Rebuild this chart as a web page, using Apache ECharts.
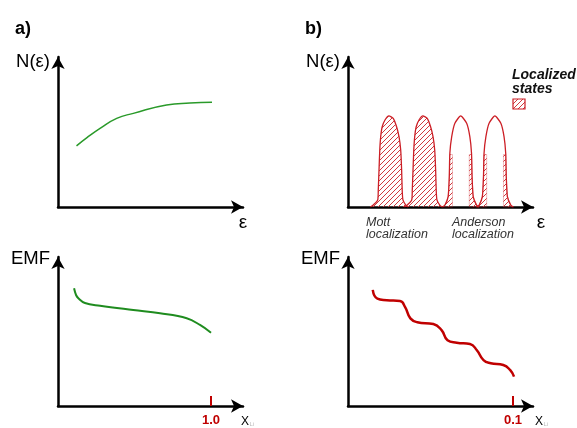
<!DOCTYPE html>
<html>
<head>
<meta charset="utf-8">
<script src="https://cdn.jsdelivr.net/npm/echarts@6/dist/echarts.min.js"></script>
<style>
html, body {margin:0; padding:0; background:#fff;}
#chart {width:577px; height:428px;}
</style>
</head>
<body>
<div id="chart"></div>
<script>
// a) top: continuous density of states N(e)
const dos_a = [[0.99,4.07],[1.55,4.62],[2.25,5.24],[3.14,5.91],[4.03,6.24],[5.81,6.8],[7.06,6.93],[8.24,6.98]];

// b) top: four bands of states
const peak1 = [[1.20,0],[1.35,0.13],[1.59,0.47],[1.62,1.13],[1.66,2.47],[1.70,3.8],[1.75,4.69],[1.83,5.35],[1.98,5.8],[2.19,6.07],[2.42,5.91],[2.60,5.35],[2.73,4.69],[2.82,3.8],[2.87,2.47],[2.90,1.13],[2.94,0.47],[3.09,0.13],[3.22,0]];
const peak2 = [[3.02,0],[3.17,0.13],[3.41,0.47],[3.44,1.13],[3.48,2.47],[3.52,3.8],[3.57,4.69],[3.65,5.35],[3.80,5.8],[4.01,6.07],[4.24,5.91],[4.42,5.35],[4.55,4.69],[4.64,3.8],[4.69,2.47],[4.72,1.13],[4.76,0.47],[4.91,0.13],[5.04,0]];
const peak3 = [[5.05,0],[5.19,0.13],[5.36,0.69],[5.42,2.02],[5.45,3.58],[5.55,4.69],[5.72,5.58],[6.03,6.07],[6.35,5.58],[6.52,4.69],[6.61,3.58],[6.64,2.02],[6.70,0.69],[6.88,0.13],[7.02,0]];
const peak4 = [[6.88,0],[7.02,0.13],[7.19,0.69],[7.25,2.02],[7.28,3.58],[7.38,4.69],[7.55,5.58],[7.86,6.07],[8.18,5.58],[8.35,4.69],[8.44,3.58],[8.47,2.02],[8.53,0.69],[8.71,0.13],[8.85,0]];
// localized tails of the Anderson bands (hatched)
const tail3L = [[5.05,0],[5.19,0.13],[5.36,0.69],[5.42,2.02],[5.45,3.5],[5.59,3.5],[5.59,0]];
const tail3R = [[6.49,0],[6.49,3.5],[6.61,3.5],[6.64,2.02],[6.70,0.69],[6.88,0.13],[7.02,0]];
const tail4L = [[6.88,0],[7.02,0.13],[7.19,0.69],[7.25,2.02],[7.28,3.5],[7.42,3.5],[7.42,0]];
const tail4R = [[8.32,0],[8.32,3.5],[8.44,3.5],[8.47,2.02],[8.53,0.69],[8.71,0.13],[8.85,0]];

// a) bottom: EMF vs x_Li
const emf_a = [[0.105,7.90],[0.118,7.45],[0.133,7.23],[0.176,6.91],[0.275,6.73],[0.492,6.44],[0.667,6.22],[0.841,5.89],[0.928,5.44],[1.0,4.92]];
// b) bottom: stepped EMF
const emf_b = [[0.0150,7.79],[0.0178,7.20],[0.0235,7.10],[0.0315,7.04],[0.0347,6.62],[0.0378,5.88],[0.0420,5.62],[0.0517,5.50],[0.0568,5.08],[0.0603,4.42],[0.0659,4.25],[0.0739,4.16],[0.0781,3.74],[0.0821,3.08],[0.0865,2.87],[0.0941,2.75],[0.0982,2.42],[0.1006,1.97]];

const xmark_a = [1.0];
const xmark_b = [0.1];

const RED = '#c00000';
const PEAK = '#cc1f26';
const FONT = '"Liberation Sans", Arial, sans-serif';

function hatch(color) {
  const s = 5;
  const c = document.createElement('canvas');
  c.width = s; c.height = s;
  const g = c.getContext('2d');
  g.clearRect(0, 0, s, s);
  g.strokeStyle = color; g.lineWidth = 1;
  g.beginPath();
  g.moveTo(0, s); g.lineTo(s, 0);
  g.moveTo(-1, 1); g.lineTo(1, -1);
  g.moveTo(s - 1, s + 1); g.lineTo(s + 1, s - 1);
  g.stroke();
  return c;
}
const hatchImg = hatch('#d03a3f');
function hatchFill() { return {image: hatchImg, repeat: 'repeat'}; }

// hatched regions: full Mott bands + Anderson tails
const hatchShapes = [peak1, peak2, tail3L, tail3R, tail4L, tail4R];

const axLine = {show: true, lineStyle: {color: '#000', width: 2.5}, symbol: ['none', 'arrow'], symbolSize: [10, 12]};
function xax(idx, max, marks, fmt) {
  const ax = {gridIndex: idx, type: 'value', min: 0, max: max, axisLine: axLine, splitLine: {show: false},
    axisTick: {show: false}, axisLabel: {show: false}};
  if (marks) {
    ax.axisTick = {show: true, inside: true, length: 10, customValues: marks, lineStyle: {color: RED, width: 2}};
    ax.axisLabel = {show: true, customValues: marks, margin: 8, color: RED, fontWeight: 'bold', fontSize: 13,
      fontFamily: FONT, formatter: fmt};
  }
  return ax;
}
function yax(idx) {
  return {gridIndex: idx, type: 'value', min: 0, max: 10, axisLine: axLine, splitLine: {show: false},
    axisTick: {show: false}, axisLabel: {show: false}};
}

function peakSeries(data) {
  return {type: 'line', xAxisIndex: 1, yAxisIndex: 1, data: data, showSymbol: false, smooth: 0.2,
    lineStyle: {color: PEAK, width: 1.3}, z: 3};
}

// y is the text baseline
function txt(s, x, y, size, opts) {
  opts = opts || {};
  const al = opts.align || 'left';
  return {type: 'text', x: x, y: y - 0.2 * size, z: 10, style: {text: s, fontSize: size, fontFamily: FONT,
    fontWeight: opts.weight || 'normal', fontStyle: opts.style || 'normal', fill: opts.color || '#000',
    align: al, verticalAlign: 'middle', textAlign: al, textVerticalAlign: 'middle'}};
}

const chart = echarts.init(document.getElementById('chart'));
chart.setOption({
  animation: false,
  backgroundColor: '#fff',
  grid: [
    {left: 58, top: 57, width: 185, height: 150, outerBoundsMode: 'none'},
    {left: 348, top: 57, width: 185, height: 150, outerBoundsMode: 'none'},
    {left: 58, top: 257, width: 185, height: 149, outerBoundsMode: 'none'},
    {left: 348, top: 257, width: 185, height: 149, outerBoundsMode: 'none'}
  ],
  xAxis: [
    xax(0, 9.9),
    xax(1, 9.9),
    xax(2, 1.209, xmark_a, v => v.toFixed(1)),
    xax(3, 0.1121, xmark_b, v => v.toFixed(1))
  ],
  yAxis: [yax(0), yax(1), yax(2), yax(3)],
  series: [
    {type: 'line', xAxisIndex: 0, yAxisIndex: 0, data: dos_a, showSymbol: false, smooth: true,
      lineStyle: {color: '#2a9a2a', width: 1.5}},
    {type: 'custom', xAxisIndex: 1, yAxisIndex: 1, z: 2, silent: true,
      data: hatchShapes.map((s, i) => [i]),
      renderItem: function (params, api) {
        const i = params.dataIndex;
        const pts = hatchShapes[i].map(p => api.coord(p));
        return {type: 'polygon', shape: {points: pts},
          style: {fill: hatchFill(), stroke: i >= 2 ? 'rgba(204,31,38,0.3)' : null, lineWidth: 1}};
      }},
    peakSeries(peak1),
    peakSeries(peak2),
    peakSeries(peak3),
    peakSeries(peak4),
    {type: 'line', xAxisIndex: 2, yAxisIndex: 2, data: emf_a, showSymbol: false, smooth: 0.4,
      lineStyle: {color: '#1f8c1f', width: 2}},
    {type: 'line', xAxisIndex: 3, yAxisIndex: 3, data: emf_b, showSymbol: false, smooth: 0.5,
      lineStyle: {color: RED, width: 2.5}}
  ],
  graphic: [
    txt('a)', 15, 33, 18, {weight: 'bold'}),
    txt('b)', 305, 33, 18, {weight: 'bold'}),
    txt('N(ε)', 50, 66, 18.5, {align: 'right'}),
    txt('N(ε)', 340, 66, 18.5, {align: 'right'}),
    txt('ε', 243, 227, 19, {align: 'center'}),
    txt('ε', 541, 227, 19, {align: 'center'}),
    txt('EMF', 50, 263, 18.5, {align: 'right'}),
    txt('EMF', 340, 263, 18.5, {align: 'right'}),
    txt('X', 241, 424, 12),
    txt('Li', 249.5, 426, 6, {color: '#bbb'}),
    txt('X', 535, 424, 12),
    txt('Li', 543.5, 426, 6, {color: '#bbb'}),
    txt('Mott', 366, 225, 12.5, {style: 'italic', color: '#333'}),
    txt('localization', 366, 237, 12.5, {style: 'italic', color: '#333'}),
    txt('Anderson', 452, 225, 12.5, {style: 'italic', color: '#333'}),
    txt('localization', 452, 237, 12.5, {style: 'italic', color: '#333'}),
    txt('Localized', 512, 78, 14, {weight: 'bold', style: 'italic', color: '#111'}),
    txt('states', 512, 92, 14, {weight: 'bold', style: 'italic', color: '#111'}),
    {type: 'rect', x: 513, y: 99, z: 10, shape: {width: 12, height: 10},
      style: {fill: hatchFill(), stroke: PEAK, lineWidth: 1.2}}
  ]
});
</script>
</body>
</html>
